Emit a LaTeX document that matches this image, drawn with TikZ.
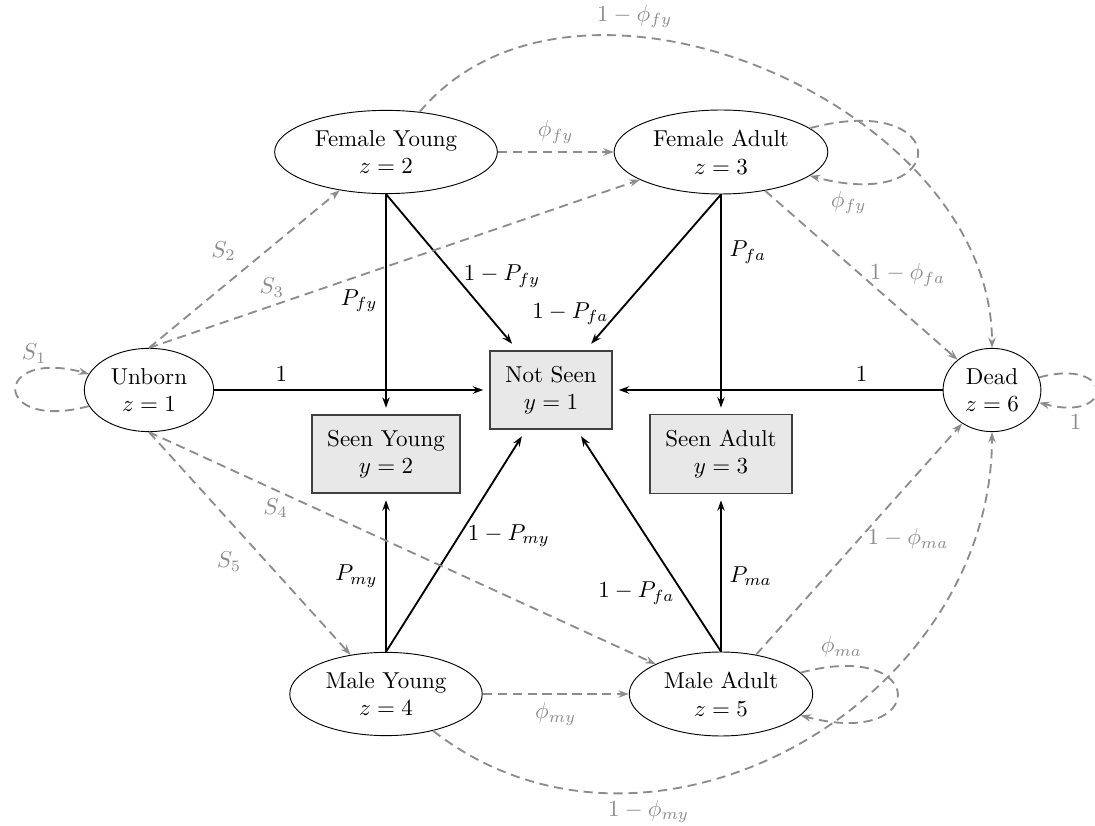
\documentclass[tikz,border=0pt]{standalone}
\usetikzlibrary{arrows.meta,shapes.geometric}
\begin{document}
\begin{tikzpicture}[x=0.4348pt, y=-0.4348pt,
  st/.style={ellipse, draw, align=center, inner sep=3.33pt},
  ob/.style={rectangle, draw=black!75, thick, fill=black!9, align=center, inner sep=6.6pt, outer sep=3pt},
  bedge/.style={thick, -{Stealth[length=4.5pt,width=3.2pt]}},
  gedge/.style={black!45, thick, dash pattern=on 4pt off 2.5pt, -{Stealth[length=4.5pt,width=3.2pt]}},
  glbl/.style={text=black!45}]
\useasboundingbox (0,0) rectangle (1095,826);
% nodes
\node[st] (ub)   at (149,390) {Unborn\\$z=1$};
\node[st] (fy)   at (386,152) {Female Young\\$z=2$};
\node[st] (fa)   at (721,152) {Female Adult\\$z=3$};
\node[st] (my)   at (386,694) {Male Young\\$z=4$};
\node[st] (ma)   at (721,694) {Male Adult\\$z=5$};
\node[st] (dead) at (992,390) {Dead\\$z=6$};
\node[ob] (ns)   at (551,390) {Not Seen\\$y=1$};
\node[ob] (sy)   at (386,454) {Seen Young\\$y=2$};
\node[ob] (sa)   at (721,454) {Seen Adult\\$y=3$};
% observation edges
\draw[bedge] (ub) -- node[pos=0.25, above] {$1$} (ns);
\draw[bedge] (dead) -- node[pos=0.25, above] {$1$} (ns);
\draw[bedge] (fy) -- node[midway, left] {$P_{fy}$} (sy);
\draw[bedge] (fy.south) -- node[pos=0.55, right] {$1-P_{fy}$} (ns);
\draw[bedge] (fa.south) -- node[pos=0.8, left] {$1-P_{fa}$} (ns);
\draw[bedge] (fa) -- node[pos=0.27, right] {$P_{fa}$} (sa);
\draw[bedge] (my) -- node[midway, left] {$P_{my}$} (sy);
\draw[bedge] (my.north) -- node[pos=0.54, right] {$1-P_{my}$} (ns);
\draw[bedge] (ma.north) -- node[pos=0.27, left] {$1-P_{fa}$} (ns);
\draw[bedge] (ma) -- node[midway, right] {$P_{ma}$} (sa);
% state transitions
\draw[gedge] (ub.north) -- node[glbl, pos=0.5, above left] {$S_2$} (fy);
\draw[gedge] (ub.north) -- node[glbl, pos=0.25, above] {$S_3$} (fa);
\draw[gedge] (ub.south) -- node[glbl, pos=0.25, below] {$S_4$} (ma);
\draw[gedge] (ub.south) -- node[glbl, pos=0.5, below left] {$S_5$} (my);
\draw[gedge] (ub) to[loop left] node[glbl, pos=0.75, above] {$S_1$} ();
\draw[gedge] (fy) -- node[glbl, above] {$\phi_{fy}$} (fa);
\draw[gedge] (fy) to[out=50, in=90] node[glbl, pos=0.33, above] {$1-\phi_{fy}$} (dead);
\draw[gedge] (fa) to[loop right] node[glbl, pos=0.9, below] {$\phi_{fy}$} ();
\draw[gedge] (fa) -- node[glbl, right] {$1-\phi_{fa}$} (dead);
\draw[gedge] (dead) to[loop right] node[glbl, pos=0.8, below] {$1$} ();
\draw[gedge] (my) -- node[glbl, below] {$\phi_{my}$} (ma);
\draw[gedge] (my) to[out=-38, in=-90, looseness=1.1] node[glbl, pos=0.3, below] {$1-\phi_{my}$} (dead);
\draw[gedge] (ma) to[loop right] node[glbl, pos=0.12, above] {$\phi_{ma}$} ();
\draw[gedge] (ma) -- node[glbl, right] {$1-\phi_{ma}$} (dead);
\end{tikzpicture}
\end{document}
